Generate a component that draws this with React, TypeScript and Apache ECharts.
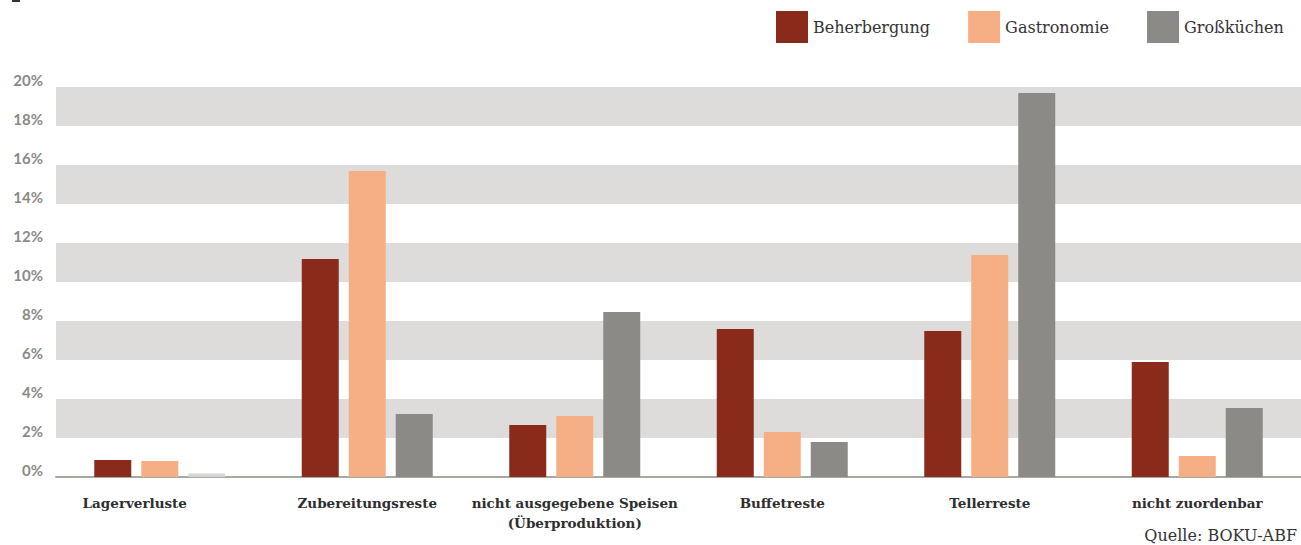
import React, { useEffect, useRef } from "react";
import * as echarts from "echarts";

const categories = [
  "Lagerverluste",
  "Zubereitungsreste",
  "nicht ausgegebene Speisen\n(Überproduktion)",
  "Buffetreste",
  "Tellerreste",
  "nicht zuordenbar",
];
const seriesNames = ["Beherbergung", "Gastronomie", "Großküchen"];
const beherbergung = [0.87, 11.18, 2.67, 7.59, 7.49, 5.9];
const gastronomie = [0.82, 15.69, 3.13, 2.31, 11.38, 1.08];
const grosskuechen = [0.18, 3.23, 8.46, 1.79, 19.69, 3.54];
const yTicks = [0, 2, 4, 6, 8, 10, 12, 14, 16, 18, 20];
const colors = ["#8a2a1b", "#f6ae84", "#8b8a86"];
const sourceText = "Quelle: BOKU-ABF";

export default function App() {
  const ref = useRef<HTMLDivElement>(null);
  useEffect(() => {
    if (!ref.current) return;
    const chart = echarts.init(ref.current, undefined, { renderer: "svg" });
    const serif = "'DejaVu Serif', serif";
    const mk = (name: string, data: number[], color: string, idx: number) => ({
      name,
      type: "bar",
      barWidth: 37,
      barGap: "27%",
      itemStyle: { color },
      data: data.map((v, i) =>
        idx === 2 && i === 0 ? { value: v, itemStyle: { color: "#d5d5d3" } } : v
      ),
    });
    chart.setOption({
      animation: false,
      backgroundColor: "#ffffff",
      color: colors,
      legend: {
        left: 776,
        top: 11,
        padding: 0,
        icon: "rect",
        itemWidth: 32,
        itemHeight: 32,
        itemGap: 38,
        textStyle: { fontFamily: serif, fontSize: 16, color: "#333333" },
        data: seriesNames,
      },
      grid: { left: 56, top: 87, width: 1249, height: 390, containLabel: false },
      xAxis: {
        type: "category",
        data: categories.map((c, i) =>
          i === 0 ? { value: c, textStyle: { padding: [0, 50, 0, 0] } } : c
        ),
        axisLine: { show: true, lineStyle: { color: "#a8a8a3", width: 2 } },
        axisTick: { show: false },
        axisLabel: {
          interval: 0,
          margin: 16,
          fontFamily: serif,
          fontWeight: "bold",
          fontSize: 13.5,
          lineHeight: 20,
          color: "#2e2e2e",
        },
        splitLine: { show: false },
      },
      yAxis: {
        type: "value",
        min: yTicks[0],
        max: yTicks[yTicks.length - 1],
        interval: 2,
        axisLine: { show: false },
        axisTick: { show: false },
        splitLine: { show: false },
        splitArea: { show: true, areaStyle: { color: ["rgba(255,255,255,0)", "#dddcda"] } },
        axisLabel: {
          margin: 13,
          fontFamily: "Lato, sans-serif",
          fontWeight: "bold",
          fontSize: 15,
          color: "#8a8a85",
          verticalAlign: "bottom",
          padding: [0, 0, 0, 0],
          formatter: (v: number) => `${v}%`,
        },
      },
      series: [
        mk(seriesNames[0], beherbergung, colors[0], 0),
        mk(seriesNames[1], gastronomie, colors[1], 1),
        mk(seriesNames[2], grosskuechen, colors[2], 2),
      ],
      graphic: [
        {
          type: "text",
          right: 4,
          top: 527,
          style: { text: sourceText, fontFamily: serif, fontSize: 16, fill: "#333333" },
        },
        { type: "rect", left: 12, top: 0, shape: { width: 8, height: 2 }, style: { fill: "#333333" } },
      ],
    });
    return () => chart.dispose();
  }, []);
  return (
    <div
      ref={ref}
      style={{ position: "fixed", left: 0, top: 0, width: 1301, height: 545, background: "#fff" }}
    />
  );
}
